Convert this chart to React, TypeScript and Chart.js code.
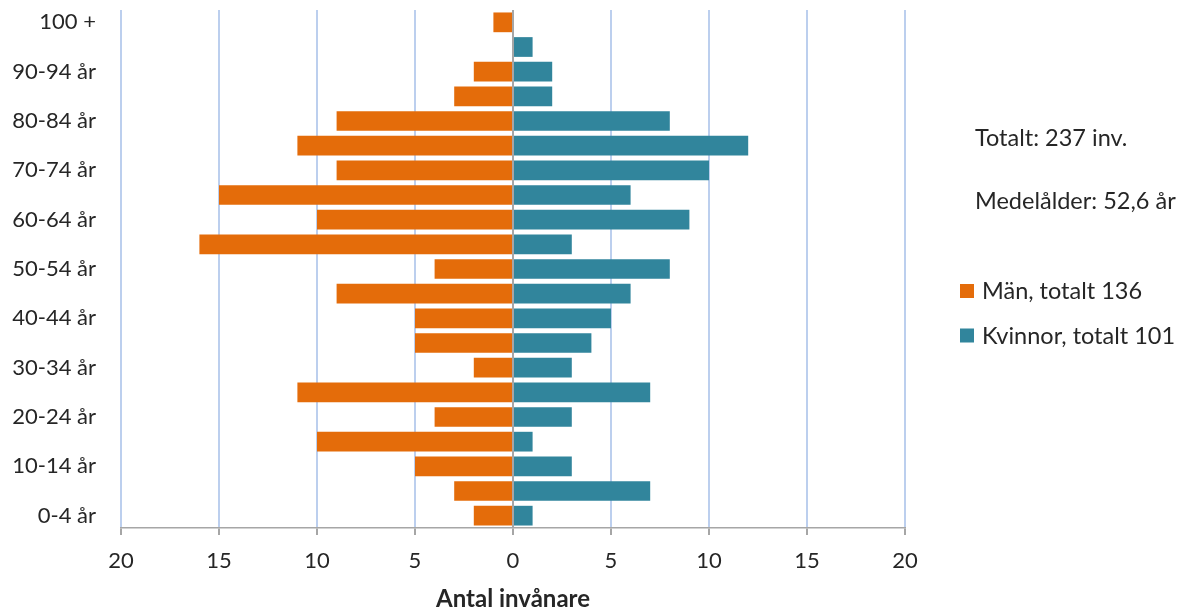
import React, { useEffect, useRef } from 'react';
import { Chart, registerables } from 'chart.js';

Chart.register(...registerables);

// ---- data (bottom to top) ----
const ageGroups = [
  '0-4 år', '5-9 år', '10-14 år', '15-19 år', '20-24 år', '25-29 år', '30-34 år',
  '35-39 år', '40-44 år', '45-49 år', '50-54 år', '55-59 år', '60-64 år', '65-69 år',
  '70-74 år', '75-79 år', '80-84 år', '85-89 år', '90-94 år', '95-99 år', '100 +',
];
const men = [2, 3, 5, 10, 4, 11, 2, 5, 5, 9, 4, 16, 10, 15, 9, 11, 9, 3, 2, 0, 1];
const women = [1, 7, 3, 1, 3, 7, 3, 4, 5, 6, 8, 3, 9, 6, 10, 12, 8, 2, 2, 1, 0];
const xMin = -20;
const xMax = 20;
const xStep = 5;
const meanAge = '52,6';
const axisTitle = 'Antal invånare';

const sum = (a: number[]) => a.reduce((s, v) => s + v, 0);
const menLabel = `Män, totalt ${sum(men)}`;
const womenLabel = `Kvinnor, totalt ${sum(women)}`;
const totalText = `Totalt: ${sum(men) + sum(women)} inv.`;
const meanText = `Medelålder: ${meanAge} år`;

// ---- style ----
const FONT = 'Lato, "Open Sans", sans-serif';
const FS = 22;
const SIDE_FS = 23.5;
const TEXT = '#262626';
const ORANGE = '#E46C0A';
const TEAL = '#31859C';
const GRID = '#BCCFEE';
const AXIS = '#A6A6A6';

const sidePanel = {
  id: 'sidePanel',
  afterDraw(chart: any) {
    const ctx = chart.ctx as CanvasRenderingContext2D;
    ctx.save();
    ctx.font = `${SIDE_FS}px ${FONT}`;
    ctx.textBaseline = 'alphabetic';
    ctx.textAlign = 'left';
    ctx.fillStyle = TEXT;
    ctx.fillText(totalText, 975, 146);
    ctx.fillText(meanText, 975, 209);
    chart.data.datasets.forEach((ds: any, i: number) => {
      const y = 284 + i * 44.5;
      ctx.fillStyle = ds.backgroundColor;
      ctx.fillRect(960, y, 14, 14);
      ctx.fillStyle = TEXT;
      ctx.fillText(ds.label, 982, y + 15);
    });
    ctx.restore();
  },
};

export default function App() {
  const ref = useRef<HTMLCanvasElement>(null);

  useEffect(() => {
    const chart = new Chart(ref.current as HTMLCanvasElement, {
      type: 'bar',
      data: {
        labels: ageGroups,
        datasets: [
          {
            label: menLabel,
            data: men.map((v) => -v),
            backgroundColor: ORANGE,
            borderWidth: 0,
            barPercentage: 0.8,
            categoryPercentage: 1.0,
          },
          {
            label: womenLabel,
            data: women,
            backgroundColor: TEAL,
            borderWidth: 0,
            barPercentage: 0.8,
            categoryPercentage: 1.0,
          },
        ],
      },
      options: {
        indexAxis: 'y',
        responsive: false,
        animation: false,
        layout: { padding: { left: 0, right: 287, top: 10, bottom: 0 } },
        plugins: {
          legend: { display: false },
          tooltip: { enabled: false },
        },
        scales: {
          x: {
            stacked: true,
            min: xMin,
            max: xMax,
            afterFit: (scale: any) => {
              scale.height = 87;
            },
            ticks: {
              stepSize: xStep,
              color: TEXT,
              font: { family: FONT, size: FS },
              padding: 13,
              callback: (v: any) => String(Math.abs(Number(v))),
            },
            grid: {
              color: (c: any) => (c.tick && c.tick.value === 0 ? AXIS : GRID),
              lineWidth: 2,
              tickColor: AXIS,
              tickLength: 7,
            },
            border: { display: true, color: AXIS, width: 1.5 },
            title: {
              display: true,
              text: axisTitle,
              color: TEXT,
              font: { family: FONT, size: 24, weight: 'bold' },
              padding: { top: 0, bottom: 1 },
            },
          },
          y: {
            stacked: true,
            reverse: true,
            afterFit: (scale: any) => {
              scale.width = 121;
              scale.paddingTop = 0;
              scale.paddingBottom = 0;
            },
            ticks: {
              autoSkip: false,
              color: TEXT,
              font: { family: FONT, size: FS },
              padding: 25,
              callback: (_v: any, i: number) => (i % 2 === 0 ? ageGroups[i] : ''),
            },
            grid: { display: false, drawTicks: false },
            border: { display: false },
          },
        },
      },
      plugins: [sidePanel],
    });
    return () => chart.destroy();
  }, []);

  return (
    <div style={{ position: 'absolute', left: 0, top: 0, width: 1192, height: 615, background: '#ffffff' }}>
      <canvas ref={ref} width={1192} height={615} style={{ display: 'block' }} />
    </div>
  );
}
